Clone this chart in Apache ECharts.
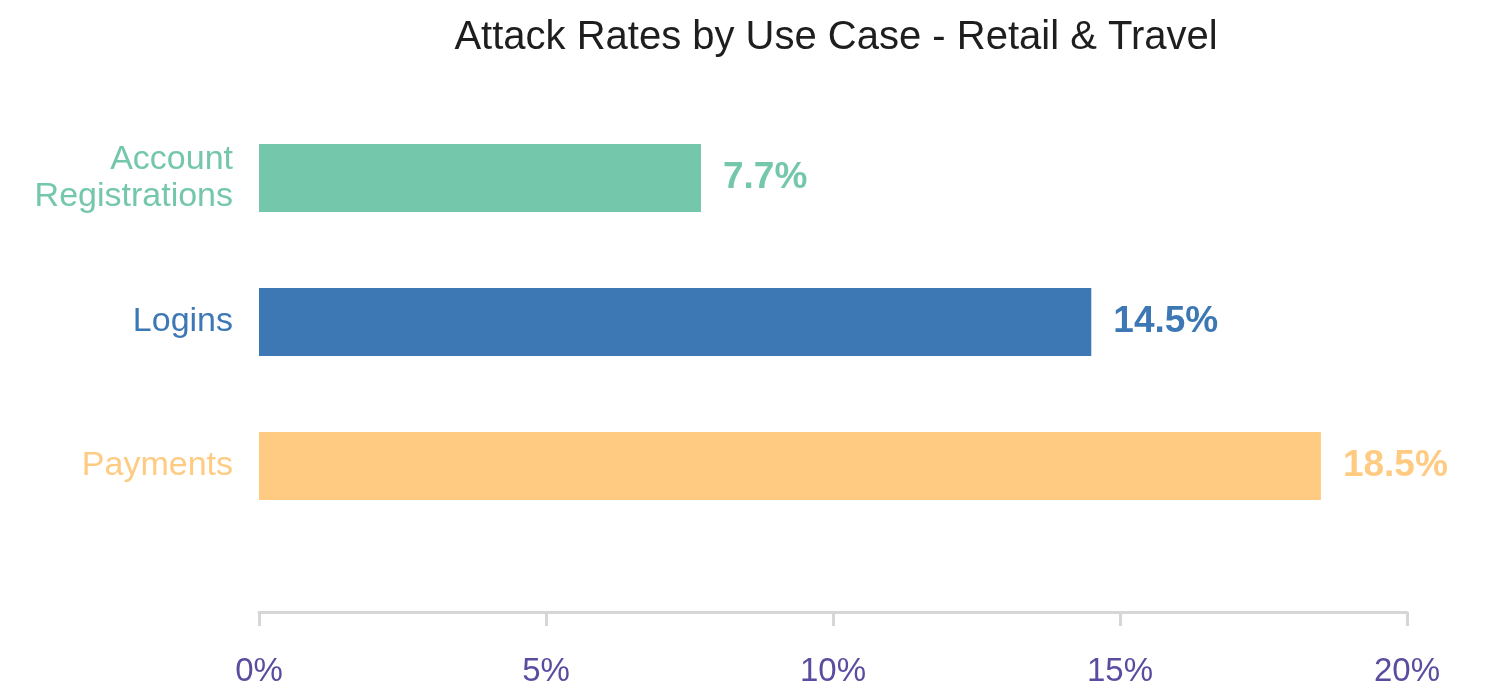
<!DOCTYPE html>
<html>
<head>
<meta charset="utf-8">
<title>Attack Rates by Use Case - Retail &amp; Travel</title>
<script src="https://cdn.jsdelivr.net/npm/echarts@6/dist/echarts.min.js"></script>
<style>
  html, body { margin: 0; padding: 0; background: #ffffff; }
  #chart { width: 1503px; height: 690px; }
</style>
</head>
<body>
<div id="chart"></div>
<script>
// Use cases and their attack rates (%)
const categories = ['Account\nRegistrations', 'Logins', 'Payments'];
const rates = [7.7, 14.5, 18.5];
const barColors = ['#74c7ab', '#3d78b4', '#ffcb82'];
const tickValues = [0, 5, 10, 15, 20];

const chart = echarts.init(document.getElementById('chart'));

const option = {
  backgroundColor: '#ffffff',
  animation: false,
  title: {
    text: 'Attack Rates by Use Case - Retail & Travel',
    left: 831,
    textAlign: 'center',
    top: 13,
    textStyle: {
      fontFamily: 'Liberation Sans, Arial, sans-serif',
      fontSize: 40,
      fontWeight: 'normal',
      color: '#1e1e1e'
    }
  },
  grid: {
    left: 259,
    right: 96,
    top: 106,
    bottom: 152,
    containLabel: false
  },
  xAxis: {
    type: 'value',
    min: tickValues[0],
    max: tickValues[tickValues.length - 1],
    interval: 5,
    offset: 74,
    axisLine: { show: true, lineStyle: { color: '#d6d6d6', width: 3 } },
    axisTick: { show: true, length: 14, lineStyle: { color: '#d6d6d6', width: 3 } },
    splitLine: { show: false },
    axisLabel: {
      margin: 43,
      formatter: v => v + '%',
      fontFamily: 'Liberation Sans, Arial, sans-serif',
      fontSize: 33,
      color: '#5a4c9f'
    }
  },
  yAxis: {
    type: 'category',
    data: categories,
    inverse: true,
    axisLine: { show: false },
    axisTick: { show: false },
    axisLabel: {
      margin: 26,
      fontFamily: 'Liberation Sans, Arial, sans-serif',
      fontSize: 34,
      lineHeight: 37,
      align: 'right',
      color: (value, index) => barColors[index]
    }
  },
  series: [{
    type: 'bar',
    data: rates.map((v, i) => ({
      value: v,
      itemStyle: { color: barColors[i] },
      label: { color: barColors[i] }
    })),
    barWidth: 68,
    label: {
      show: true,
      position: 'right',
      distance: 22,
      formatter: p => p.value.toFixed(1) + '%',
      fontFamily: 'Liberation Sans, Arial, sans-serif',
      fontSize: 37,
      fontWeight: 'bold'
    }
  }]
};

chart.setOption(option);
</script>
</body>
</html>
